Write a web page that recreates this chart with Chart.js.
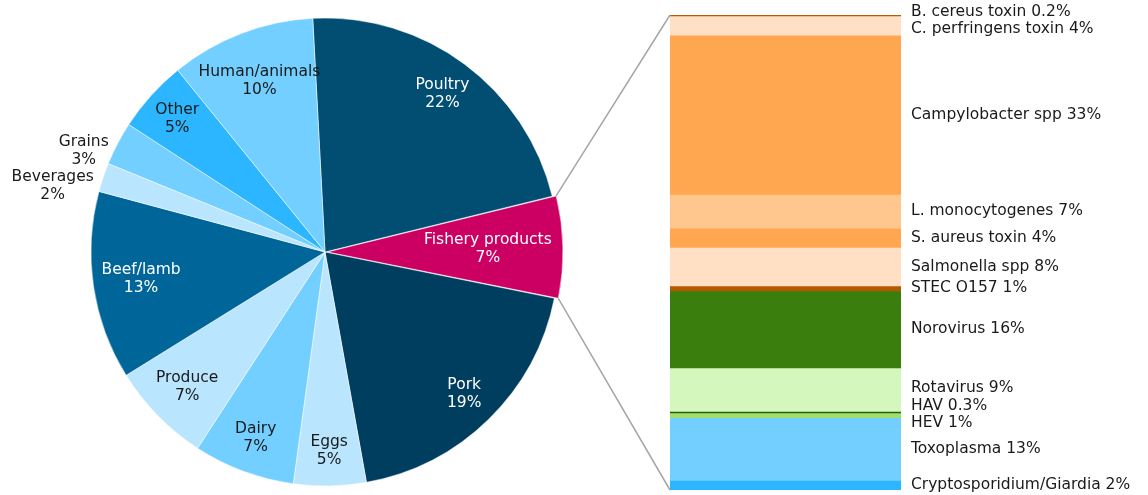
<!DOCTYPE html>
<html>
<head>
<meta charset="utf-8">
<script src="https://cdn.jsdelivr.net/npm/chart.js@4.4.1/dist/chart.umd.min.js"></script>
<style>
  body { margin: 0; background: #fff; }
  #wrap { position: relative; width: 1148px; height: 495px; }
  #wrap canvas { position: absolute; top: 0; }
  #pieChart { left: 0; }
  #barChart { left: 640px; }
  #links { left: 0; pointer-events: none; }
</style>
</head>
<body>
<div id="wrap">
  <canvas id="pieChart" width="650" height="495"></canvas>
  <canvas id="barChart" width="508" height="495"></canvas>
  <canvas id="links" width="1148" height="495"></canvas>
</div>
<script>
// Food sources (pie)
const sources = ['Poultry', 'Fishery products', 'Pork', 'Eggs', 'Dairy', 'Produce', 'Beef/lamb', 'Beverages', 'Grains', 'Other', 'Human/animals'];
const sourceShares = [22, 7, 19, 5, 7, 7, 13, 2, 3, 5, 10];
const sourceColors = ['#024e73', '#cc0062', '#003e5f', '#b9e6fe', '#72cfff', '#b9e6fe', '#006699', '#b9e6fe', '#72cfff', '#2bb6ff', '#72cfff'];

// Pathogens behind the fishery products share (stacked bar)
const pathogens = ['B. cereus toxin', 'C. perfringens toxin', 'Campylobacter spp', 'L. monocytogenes', 'S. aureus toxin', 'Salmonella spp', 'STEC O157', 'Norovirus', 'Rotavirus', 'HAV', 'HEV', 'Toxoplasma', 'Cryptosporidium/Giardia'];
const pathogenShares = [0.2, 4, 33, 7, 4, 8, 1, 16, 9, 0.3, 1, 13, 2];
const pathogenColors = ['#b35a00', '#ffe0c5', '#ffa750', '#ffc68e', '#ffa750', '#ffe0c5', '#b35a00', '#3a7f0d', '#d4f7be', '#2c5c10', '#9fe06b', '#72cfff', '#2bb6ff'];

const FONT = '15.5px "DejaVu Sans", Verdana, sans-serif';
const LINE_H = 18;
const LABEL_GAP = 17.5;
const explodedIndex = 1;
const pathogenTotal = pathogenShares.reduce((a, b) => a + b, 0);

function isDark(hex) {
  const n = parseInt(hex.slice(1), 16);
  const r = n >> 16, g = (n >> 8) & 255, b = n & 255;
  return (0.299 * r + 0.587 * g + 0.114 * b) < 120;
}

// Slice labels: inside when the text fits, outside for thin slices
const pieLabels = {
  id: 'pieLabels',
  afterDatasetsDraw(chart) {
    const ctx = chart.ctx;
    ctx.save();
    ctx.font = FONT;
    ctx.textBaseline = 'middle';
    chart.getDatasetMeta(0).data.forEach((arc, i) => {
      const { x, y, startAngle, endAngle, outerRadius } = arc.getProps(['x', 'y', 'startAngle', 'endAngle', 'outerRadius'], true);
      const mid = (startAngle + endAngle) / 2;
      const cos = Math.cos(mid), sin = Math.sin(mid);
      const lines = [sources[i], sourceShares[i] + '%'];
      const w = Math.max(...lines.map(t => ctx.measureText(t).width));
      const h = LINE_H * lines.length;
      let cx, cy;
      if (sourceShares[i] < 4) {
        const d = outerRadius + 10;
        const px = x + cos * d, py = y + sin * d;
        cx = cos < 0 ? px - w / 2 : px + w / 2;
        cy = py + 12;
        ctx.fillStyle = '#1a1a1a';
      } else {
        const limit = outerRadius - 6;
        let d = outerRadius * 0.85;
        const fits = dd => {
          const px = cos * dd, py = sin * dd;
          return [[-1, -1], [1, -1], [-1, 1], [1, 1]].every(([sx, sy]) =>
            Math.hypot(px + sx * w / 2, py + sy * h / 2) < limit);
        };
        while (d > 0 && !fits(d)) d -= 1;
        cx = x + cos * d;
        cy = y + sin * d;
        ctx.fillStyle = isDark(sourceColors[i]) ? '#ffffff' : '#1a1a1a';
      }
      ctx.textAlign = 'center';
      lines.forEach((t, j) => ctx.fillText(t, cx, cy + (j - (lines.length - 1) / 2) * LINE_H));
    });
    ctx.restore();
  }
};

// Bar labels to the right, spread apart where segments are too thin
const barLabels = {
  id: 'barLabels',
  afterDatasetsDraw(chart) {
    const ctx = chart.ctx;
    const items = chart.data.datasets.map((ds, i) => {
      const bar = chart.getDatasetMeta(i).data[0];
      return { text: ds.label + ' ' + pathogenShares[i] + '%', y: (bar.y + bar.base) / 2 };
    });
    let groups = items.map(it => ({ members: [it], center: it.y }));
    let merged = true;
    while (merged) {
      merged = false;
      for (let k = 0; k < groups.length - 1; k++) {
        const a = groups[k], b = groups[k + 1];
        const aBottom = a.center + (a.members.length - 1) * LABEL_GAP / 2;
        const bTop = b.center - (b.members.length - 1) * LABEL_GAP / 2;
        if (bTop - aBottom < LABEL_GAP) {
          const members = a.members.concat(b.members);
          const center = members.reduce((s, m) => s + m.y, 0) / members.length;
          groups.splice(k, 2, { members, center });
          merged = true;
          break;
        }
      }
    }
    ctx.save();
    ctx.font = FONT;
    ctx.fillStyle = '#1a1a1a';
    ctx.textAlign = 'left';
    ctx.textBaseline = 'middle';
    const tx = chart.chartArea.right + 10;
    groups.forEach(g => g.members.forEach((m, j) => {
      ctx.fillText(m.text, tx, g.center + (j - (g.members.length - 1) / 2) * LABEL_GAP);
    }));
    ctx.restore();
  }
};

const pie = new Chart(document.getElementById('pieChart'), {
  type: 'pie',
  data: {
    labels: sources,
    datasets: [{
      data: sourceShares,
      backgroundColor: sourceColors,
      borderColor: '#ffffff',
      borderWidth: 0.5,
      offset: sourceShares.map((_, i) => i === explodedIndex ? 10 : 0)
    }]
  },
  options: {
    responsive: false,
    animation: false,
    rotation: -3,
    radius: 234,
    layout: { padding: { top: 9, bottom: 0, left: 0, right: 0 } },
    plugins: { legend: { display: false }, tooltip: { enabled: false } }
  },
  plugins: [pieLabels]
});

const bar = new Chart(document.getElementById('barChart'), {
  type: 'bar',
  data: {
    labels: [''],
    datasets: pathogens.map((p, i) => ({
      label: p,
      data: [pathogenShares[i]],
      backgroundColor: pathogenColors[i],
      borderWidth: 0,
      barPercentage: 1,
      categoryPercentage: 1
    }))
  },
  options: {
    responsive: false,
    animation: false,
    layout: { padding: { top: 15, bottom: 5, left: 30, right: 247 } },
    scales: {
      x: { stacked: true, display: false },
      y: { stacked: true, display: false, reverse: true, min: 0, max: pathogenTotal }
    },
    plugins: { legend: { display: false }, tooltip: { enabled: false } }
  },
  plugins: [barLabels]
});

// Connector lines from the exploded slice to the bar
function drawLinks() {
  const ctx = document.getElementById('links').getContext('2d');
  const arc = pie.getDatasetMeta(0).data[explodedIndex];
  const off = arc.options.offset / 4;
  const mid = (arc.startAngle + arc.endAngle) / 2;
  const fix = 1 - Math.sin(Math.min(Math.PI, arc.circumference));
  const r = arc.outerRadius + off * fix;
  const ox = pie.canvas.offsetLeft + arc.x + Math.cos(mid) * off;
  const oy = pie.canvas.offsetTop + arc.y + Math.sin(mid) * off;

  const seg = bar.getDatasetMeta(0).data[0];
  const yScale = bar.scales.y;
  const bx = bar.canvas.offsetLeft + seg.x - seg.width / 2;
  const top = bar.canvas.offsetTop + yScale.getPixelForValue(0);
  const bottom = bar.canvas.offsetTop + yScale.getPixelForValue(pathogenTotal);

  ctx.strokeStyle = '#a6a6a6';
  ctx.lineWidth = 1.5;
  ctx.beginPath();
  ctx.moveTo(ox + Math.cos(arc.startAngle) * r, oy + Math.sin(arc.startAngle) * r);
  ctx.lineTo(bx, top);
  ctx.moveTo(ox + Math.cos(arc.endAngle) * r, oy + Math.sin(arc.endAngle) * r);
  ctx.lineTo(bx, bottom);
  ctx.stroke();
}
drawLinks();
</script>
</body>
</html>
